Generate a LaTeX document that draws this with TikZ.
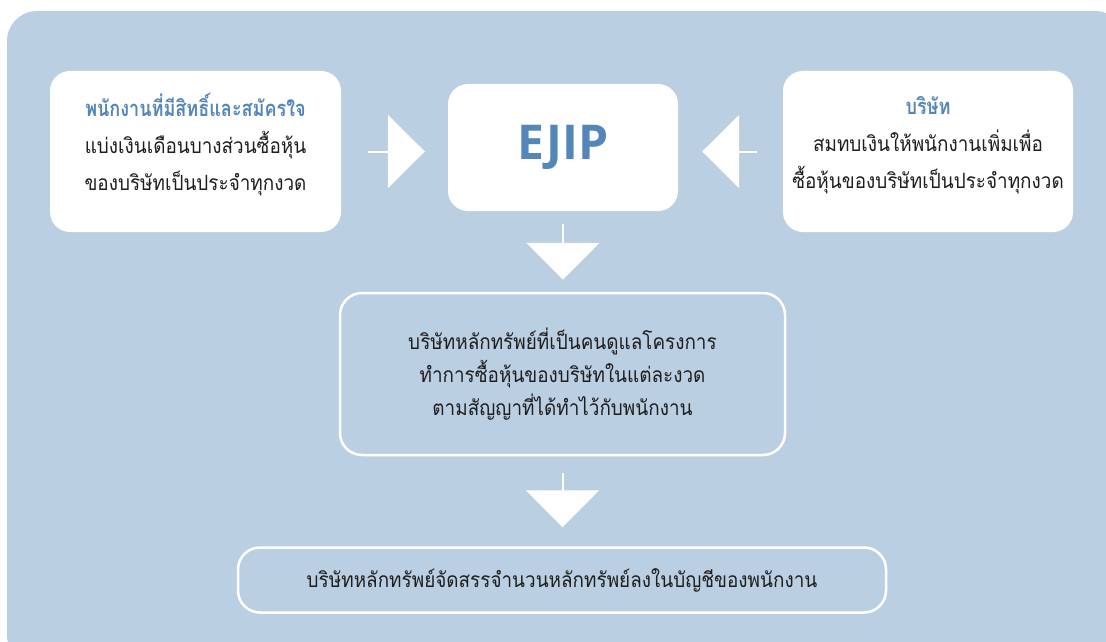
\documentclass[tikz,border=0pt]{standalone}
\usepackage{fontspec}
\usetikzlibrary{arrows.meta}
\newfontfamily\thaifont[Script=Thai,FakeStretch=0.9]{Loma}
\newfontfamily\thaititle[Script=Thai,FakeStretch=0.82]{Loma}
\newfontfamily\ejipfont{Open Sans}
\definecolor{bgblue}{RGB}{187,207,226}
\definecolor{titleblue}{RGB}{84,134,186}
\definecolor{txtgray}{RGB}{30,30,30}

\begin{document}
\begin{tikzpicture}[x=1pt,y=-1pt,
  whitebox/.style={fill=white,rounded corners=20pt,text=txtgray,align=center,font=\thaifont\fontsize{21}{37}\selectfont},
  linebox/.style={draw=white,line width=2.5pt,rounded corners=22pt,text=txtgray,align=center,font=\thaifont\fontsize{21}{33}\selectfont},
  blockarrow/.style={white,line width=2pt,-{Triangle[length=37pt,width=73pt]}}]
\useasboundingbox (0,0) rectangle (1106,642);
\fill[bgblue,rounded corners=30pt] (7,11) rectangle (1125,665);

% the three boxes on top
\node (staff) at (195.5,151.5) [whitebox,minimum width=291pt,minimum height=161pt]{{\thaititle\bfseries\fontsize{22}{37}\selectfont\color{titleblue}พนักงานที่มีสิทธิ์และสมัครใจ}\\แบ่งเงินเดือนบางส่วนซื้อหุ้น\\ของบริษัทเป็นประจำทุกงวด\\[-18pt]\mbox{}};
\node (ejip) at (563,147.5) [whitebox,minimum width=230pt,minimum height=127pt,font=\ejipfont\bfseries\fontsize{48}{50}\selectfont,text=titleblue]{EJIP};
\node (firm) at (928,151.5) [whitebox,minimum width=290pt,minimum height=161pt]{{\thaititle\bfseries\fontsize{22}{37}\selectfont\color{titleblue}บริษัท}\\สมทบเงินให้พนักงานเพิ่มเพื่อ\\ซื้อหุ้นของบริษัทเป็นประจำทุกงวด\\[-18pt]\mbox{}};

% outlined boxes
\node (broker) at (562.5,374) [linebox,minimum width=445pt,minimum height=162pt]{บริษัทหลักทรัพย์ที่เป็นคนดูแลโครงการ\\ทำการซื้อหุ้นของบริษัทในแต่ละงวด\\ตามสัญญาที่ได้ทำไว้กับพนักงาน};
\node (account) at (562,580) [linebox,minimum width=648pt,minimum height=65pt]{บริษัทหลักทรัพย์จัดสรรจำนวนหลักทรัพย์ลงในบัญชีของพนักงาน};

\draw[blockarrow,shorten <=27pt,shorten >=23pt] (staff.east) -- (staff.east -| ejip.west);
\draw[blockarrow,shorten <=26pt,shorten >=24pt] (firm.west) -- (firm.west -| ejip.east);
\draw[blockarrow,shorten <=13pt,shorten >=12pt] (ejip.south) -- (ejip.south |- broker.north);
\draw[blockarrow,shorten <=17pt,shorten >=19pt] (broker.south) -- (broker.south |- account.north);

\end{tikzpicture}
\end{document}
